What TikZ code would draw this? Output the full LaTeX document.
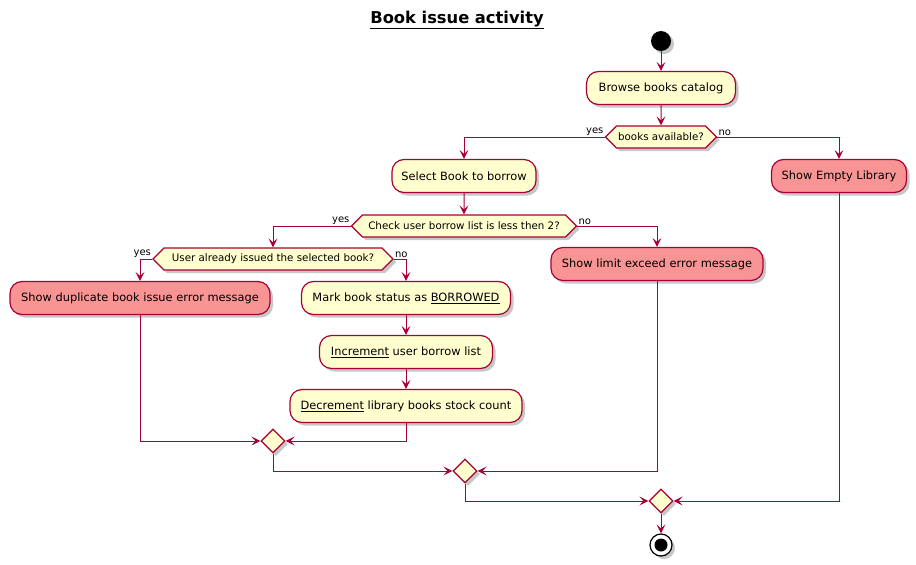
\documentclass[tikz,border=0pt]{standalone}
\usepackage{fontspec}
\setmainfont{DejaVu Sans}
\usetikzlibrary{shapes.geometric,shapes.symbols,arrows.meta,shadows}
\definecolor{bd}{HTML}{A80036}
\definecolor{fl}{HTML}{FEFECE}
\definecolor{rd}{HTML}{F99494}
\begin{document}
\begin{tikzpicture}[x=1pt,y=-1pt,
 shd/.style={drop shadow={shadow xshift=3pt, shadow yshift=-3pt, opacity=0.22, fill=black}},
 act/.style={draw=bd, line width=1.2pt, fill=fl, rounded corners=12pt, minimum height=33pt, inner xsep=0pt, font=\fontsize{11.4}{13}\selectfont, shd},
 err/.style={act, fill=rd},
 dec/.style={shape=signal, signal to=east and west, signal pointer angle=90, draw=bd, line width=1.2pt, fill=fl, minimum height=22pt, inner sep=0pt, font=\fontsize{10.3}{12}\selectfont, shd},
 mrg/.style={diamond, draw=bd, fill=fl, line width=1.2pt, minimum width=24pt, minimum height=24pt, inner sep=0pt, shd},
 arr/.style={draw=bd, line width=1pt, -{Stealth[length=9pt,width=9pt,inset=4pt]}},
 lbl/.style={font=\fontsize{10}{12}\selectfont, inner sep=1pt}
]
\path[use as bounding box, fill=white] (0,0) rectangle (916,565);

\node (title) at (457,20) {\fontsize{16.3}{19}\selectfont\bfseries\underline{Book issue activity}};

\node[circle, fill=black, minimum size=20pt, inner sep=0pt, shd] (start) at (661,41) {};
\node[act, minimum width=149pt] (browse) at (661,88) {Browse books catalog};
\node[dec, minimum width=111pt] (d1) at (661,137) {books available?};
\node[act, minimum width=144pt] (sel) at (464,176) {Select Book to borrow};
\node[err, minimum width=135pt] (empty) at (839,176) {Show Empty Library};
\node[dec, minimum width=225pt] (d2) at (464,226) {Check user borrow list is less then 2?};
\node[err, minimum width=212pt] (lim) at (657,264) {Show limit exceed error message};
\node[dec, minimum width=240pt] (d3) at (273,259) {User already issued the selected book?};
\node[err, minimum width=260pt] (dup) at (140,298) {Show duplicate book issue error message};
\node[act, minimum width=209pt] (mark) at (406,298) {Mark book status as \underline{BORROWED}};
\node[act, minimum width=173pt] (inc) at (406,352) {\underline{Increment} user borrow list};
\node[act, minimum width=232pt] (decr) at (406,406) {\underline{Decrement} library books stock count};
\node[mrg] (m1) at (273,441) {};
\node[mrg] (m2) at (465,471) {};
\node[mrg] (m3) at (661,501) {};
\node[circle, draw=black, line width=1.2pt, fill=white, minimum size=22pt, inner sep=0pt, shd] (endc) at (661,545) {};
\fill (endc.center) circle (6.5pt);

\node[lbl, anchor=south east] at (d1.west) {yes};
\node[lbl, anchor=south west] at (d1.east) {no};
\node[lbl, anchor=south east] at (d2.west) {yes};
\node[lbl, anchor=south west] at (d2.east) {no};
\node[lbl, anchor=south east] at (d3.west) {yes};
\node[lbl, anchor=south west] at (d3.east) {no};

\draw[arr] (start) -- (browse);
\draw[arr] (browse) -- (d1);
\draw[arr] (d1.west) -| (sel.north);
\draw[arr] (d1.east) -| (empty.north);
\draw[arr] (sel) -- (d2);
\draw[arr] (d2.west) -| (d3.north);
\draw[arr] (d2.east) -| (lim.north);
\draw[arr] (d3.west) -| (dup.north);
\draw[arr] (d3.east) -| (mark.north);
\draw[arr] (mark) -- (inc);
\draw[arr] (inc) -- (decr);
\draw[arr] (dup.south) |- (m1.west);
\draw[arr] (decr.south) |- (m1.east);
\draw[arr] (m1.south) |- (m2.west);
\draw[arr] (lim.south) |- (m2.east);
\draw[arr] (m2.south) |- (m3.west);
\draw[arr] (empty.south) |- (m3.east);
\draw[arr] (m3) -- (endc);
\end{tikzpicture}
\end{document}
